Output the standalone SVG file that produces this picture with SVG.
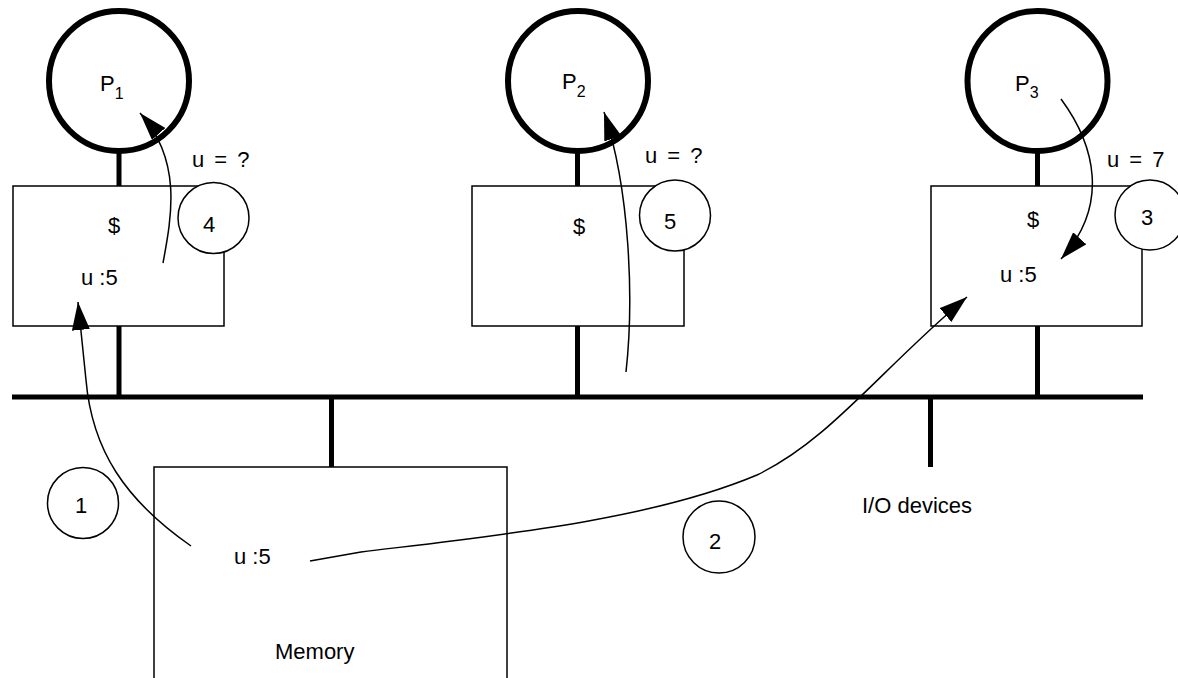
<svg xmlns="http://www.w3.org/2000/svg" width="1178" height="678" viewBox="0 0 1178 678">
<style>
text{font-family:"Liberation Sans",Arial,sans-serif;font-size:22px;fill:#000}
.mid{text-anchor:middle}
.proc{fill:none;stroke:#000;stroke-width:6}
.thick{stroke:#000;stroke-width:5;fill:none}
.box{fill:#fff;stroke:#000;stroke-width:1.5}
.num{fill:#fff;stroke:#000;stroke-width:1.5}
.flow{fill:none;stroke:#000;stroke-width:1.5}
.sub{font-size:16px}
</style>
<defs>
<marker id="ah" markerUnits="userSpaceOnUse" markerWidth="30" markerHeight="20" refX="28" refY="9" orient="auto">
<path d="M0,0 L28,9 L0,18 z" fill="#000"/>
</marker>
</defs>
<g id="bus">
<line class="thick" x1="12" y1="397" x2="1143" y2="397"/>
<line class="thick" x1="331.5" y1="397" x2="331.5" y2="467"/>
<line class="thick" x1="930.5" y1="397" x2="930.5" y2="467"/>
</g>
<g id="node-p1">
<line class="thick" x1="119" y1="150" x2="119" y2="397"/>
<circle class="proc" cx="119" cy="81" r="70"/>
<text x="100" y="91">P<tspan class="sub" dy="8">1</tspan></text>
<rect class="box" x="13" y="186" width="211" height="140"/>
<text class="mid" x="114" y="233">$</text>
<text x="81" y="285">u :5</text>
</g>
<g id="node-p2">
<line class="thick" x1="577.5" y1="150" x2="577.5" y2="397"/>
<circle class="proc" cx="578" cy="81" r="70"/>
<text x="562" y="89">P<tspan class="sub" dy="8">2</tspan></text>
<rect class="box" x="472" y="186" width="212" height="140"/>
<text class="mid" x="579" y="234">$</text>
</g>
<g id="node-p3">
<line class="thick" x1="1037.5" y1="150" x2="1037.5" y2="397"/>
<circle class="proc" cx="1037.5" cy="81" r="70"/>
<text x="1015" y="91">P<tspan class="sub" dy="7">3</tspan></text>
<rect class="box" x="931" y="186" width="211" height="140"/>
<text class="mid" x="1033" y="227">$</text>
<text x="1000" y="282">u :5</text>
</g>
<g id="node-memory">
<rect class="box" x="154" y="467" width="353" height="230"/>
<text x="234" y="564">u :5</text>
<text x="275" y="659">Memory</text>
</g>
<g id="node-io">
<text x="862" y="513">I/O devices</text>
</g>
<g id="step-1">
<circle class="num" cx="83" cy="503" r="35.5"/>
<text class="mid" x="81" y="513">1</text>
</g>
<g id="step-2">
<circle class="num" cx="719" cy="537" r="36"/>
<text class="mid" x="715" y="549">2</text>
</g>
<g id="step-3">
<circle class="num" cx="1150" cy="215" r="35"/>
<text class="mid" x="1147" y="225">3</text>
</g>
<g id="step-4">
<circle class="num" cx="213.5" cy="218" r="35.5"/>
<text class="mid" x="209" y="232">4</text>
</g>
<g id="step-5">
<circle class="num" cx="675" cy="215.5" r="35.5"/>
<text class="mid" x="670" y="229">5</text>
</g>
<g id="labels">
<text x="192" y="167" word-spacing="4">u = ?</text>
<text x="645" y="163" word-spacing="4">u = ?</text>
<text x="1107" y="167" word-spacing="4">u = 7</text>
</g>
<g id="connectors">
<path class="flow" d="M191,546 C125,500 92,450 86,380 L78,302" marker-end="url(#ah)"/>
<path class="flow" d="M310,561 L361,552 C500,535 650,520 757,475 C830,440 880,370 967,297" marker-end="url(#ah)"/>
<path class="flow" d="M1061,99 C1095,145 1110,205 1061,259" marker-end="url(#ah)"/>
<path class="flow" d="M163,263 C172,215 182,160 140,113" marker-end="url(#ah)"/>
<path class="flow" d="M626,372 C634,300 630,190 604,112" marker-end="url(#ah)"/>
</g>
</svg>
